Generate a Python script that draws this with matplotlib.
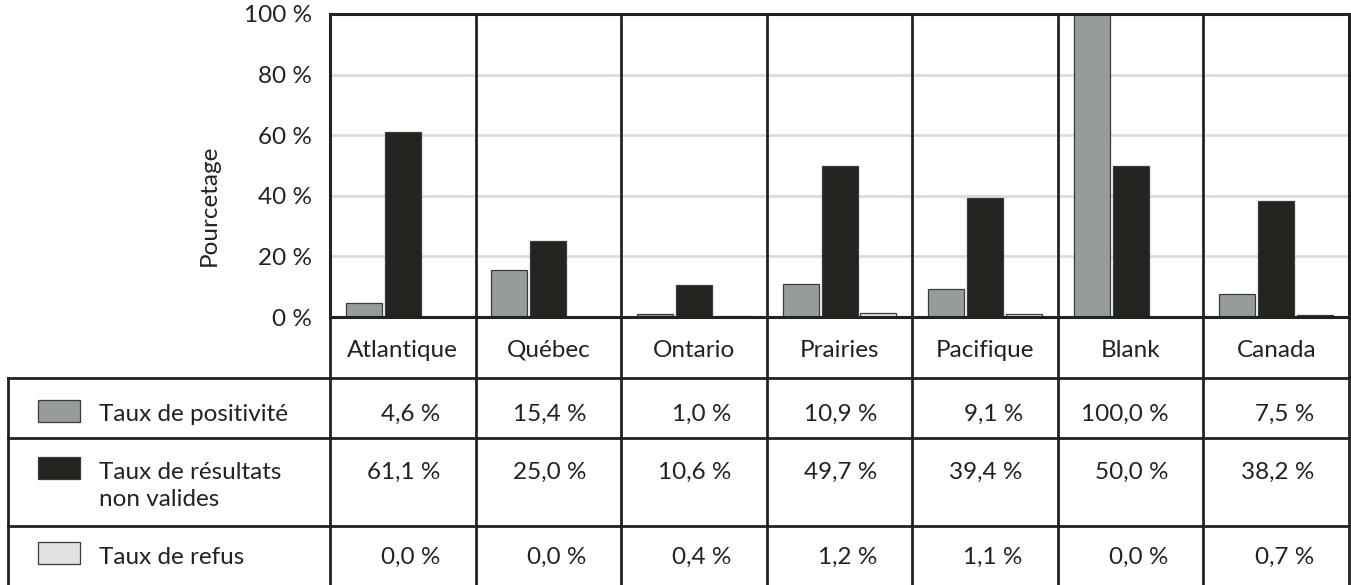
import numpy as np
import matplotlib.pyplot as plt
from matplotlib.patches import Rectangle

plt.rcParams['font.family'] = ['Lato', 'DejaVu Sans']

regions = ['Atlantique', 'Québec', 'Ontario', 'Prairies', 'Pacifique', 'Blank', 'Canada']
positivite = [4.6, 15.4, 1.0, 10.9, 9.1, 100.0, 7.5]
non_valides = [61.1, 25.0, 10.6, 49.7, 39.4, 50.0, 38.2]
refus = [0.0, 0.0, 0.4, 1.2, 1.1, 0.0, 0.7]
series_names = ['Taux de positivité', 'Taux de résultats\nnon valides', 'Taux de refus']
yticks = [0, 20, 40, 60, 80, 100]

colors = ['#969c9c', '#222420', '#e0e2e2']
ink = '#222222'
fs = 17.5

W, H = 1351, 585
ax_left, ax_right, ax_top, ax_bot = 330, 1349, 14, 317
fig = plt.figure(figsize=(W / 100, H / 100), dpi=100)
ax = fig.add_axes([ax_left / W, 1 - ax_bot / H, (ax_right - ax_left) / W, (ax_bot - ax_top) / H])

n = len(regions)
col_w = (ax_right - ax_left) / n
x = np.arange(n) + 0.5
bw = 36 / col_w
step = 39 / col_w
for k, vals in enumerate([positivite, non_valides, refus]):
    ax.bar(x + (k - 1) * step, vals, width=bw, color=colors[k],
           edgecolor='#3a3a3a', linewidth=0.9, zorder=3)

ax.set_xlim(0, n)
ax.set_ylim(0, 100)
ax.set_yticks(yticks)
ax.set_yticklabels([f'{v} %' for v in yticks], fontsize=fs, color=ink)
ax.tick_params(axis='y', length=0, pad=13)
ax.set_xticks([])
ax.grid(axis='y', color='#d9dddd', linewidth=2, zorder=0)
for i in range(1, n):
    ax.axvline(i, color=ink, linewidth=2, zorder=4)
for s in ax.spines.values():
    s.set_color(ink)
    s.set_linewidth(2.2)
    s.set_zorder(5)
ax.set_ylabel('Pourcetage', fontsize=fs, color=ink)
ax.yaxis.set_label_coords(-0.108, 0.37)

# data table under the chart, y in pixel rows from the top
tbl_left = 8
tax = fig.add_axes([tbl_left / W, 0, (ax_right - tbl_left) / W, (H - ax_bot) / H])
tax.set_xlim(-(ax_left - tbl_left) / col_w, n)
tax.set_ylim(H, ax_bot)
tax.axis('off')
xl = -(ax_left - tbl_left) / col_w
px = lambda p: (p - ax_left) / col_w

rows = [378, 438, 526, H + 5]
for i in range(n + 1):
    tax.plot([i, i], [ax_bot, H + 5], color=ink, lw=2, clip_on=False)
tax.plot([xl, xl], [rows[0], H + 5], color=ink, lw=2, clip_on=False)
for r in rows[:3]:
    tax.plot([xl, n], [r, r], color=ink, lw=2, clip_on=False)

for i, name in enumerate(regions):
    tax.text(i + 0.5, 357, name, ha='center', va='baseline', fontsize=fs, color=ink)

baselines = [421, 479, 564]
swatch_y = [411, 468, 553]
for k, vals in enumerate([positivite, non_valides, refus]):
    tax.add_patch(Rectangle((px(38), swatch_y[k] - 11), 42 / col_w, 22,
                            facecolor=colors[k], edgecolor='#3a3a3a', lw=0.9))
    for j, line in enumerate(series_names[k].split('\n')):
        tax.text(px(99), baselines[k] + 27 * j, line, ha='left', va='baseline',
                 fontsize=fs, color=ink)
    for i, v in enumerate(vals):
        label = f'{v:.1f}'.replace('.', ',') + ' %'
        tax.text(i + 1 - 35 / col_w, baselines[k], label, ha='right', va='baseline',
                 fontsize=fs, color=ink)

fig.savefig('out.png', dpi=100)
